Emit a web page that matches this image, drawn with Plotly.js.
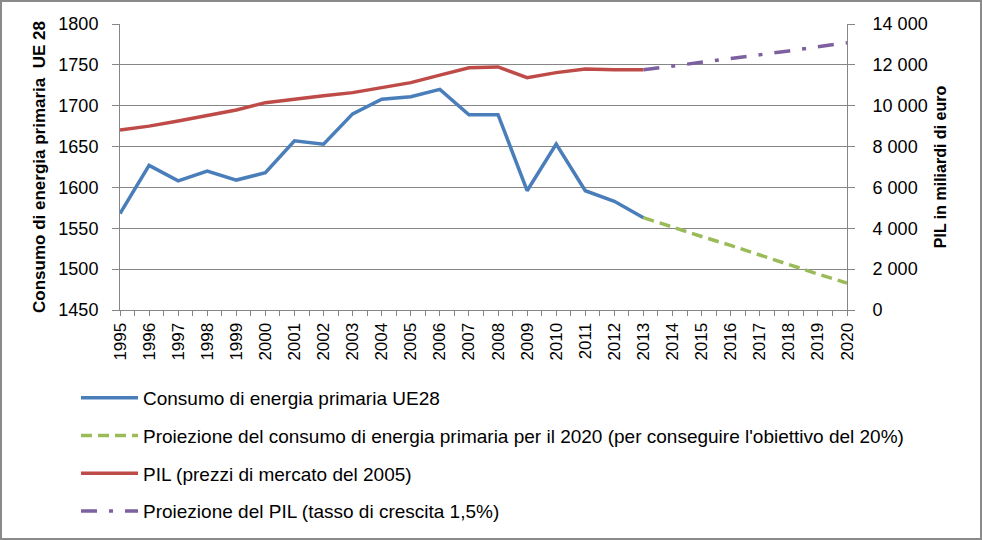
<!DOCTYPE html>
<html>
<head>
<meta charset="utf-8">
<script src="https://cdn.plot.ly/plotly-3.0.1.min.js"></script>
<style>
  body { margin: 0; background: #fff; }
  #frame { width: 982px; height: 540px; box-sizing: border-box; border: 2px solid #8a8a8a; overflow: hidden; }
</style>
</head>
<body>
<div id="frame"><div id="chart"></div></div>
<script>
const years = [1995, 1996, 1997, 1998, 1999, 2000, 2001, 2002, 2003, 2004,
               2005, 2006, 2007, 2008, 2009, 2010, 2011, 2012, 2013];
const energy = [1568, 1627, 1608, 1620, 1609, 1618, 1657, 1653, 1690, 1708,
                1711, 1720, 1689, 1689, 1596, 1653, 1596, 1583, 1563];
const gdp = [8810, 9000, 9250, 9500, 9790, 10150, 10340, 10490, 10640, 10880,
             11130, 11500, 11860, 11900, 11370, 11620, 11800, 11760, 11760];

const projYears = [2013, 2014, 2015, 2016, 2017, 2018, 2019, 2020];
const energyProj = [1563, 1551, 1540, 1529, 1517, 1506, 1494, 1483];
const gdpProj = [11760, 11940, 12110, 12290, 12500, 12680, 12890, 13080];

const tickYears = [];
for (let y = 1995; y <= 2020; y++) tickYears.push(y);

const font = 'Liberation Sans, Arial, sans-serif';
const grid = '#868686';

const traces = [
  {
    x: years, y: energy, name: 'Consumo di energia primaria UE28',
    type: 'scatter', mode: 'lines', legendgroup: 'a',
    line: { color: '#4a7ebb', width: 3.5 }
  },
  {
    x: projYears, y: energyProj,
    name: "Proiezione del consumo di energia primaria per il 2020 (per conseguire l'obiettivo del 20%)",
    type: 'scatter', mode: 'lines', legendgroup: 'b',
    line: { color: '#9bbb59', width: 3.5, dash: '11px,6px' }
  },
  {
    x: years, y: gdp, name: 'PIL (prezzi di mercato del 2005)', yaxis: 'y2',
    type: 'scatter', mode: 'lines', legendgroup: 'c',
    line: { color: '#be4b48', width: 3.5 }
  },
  {
    x: projYears, y: gdpProj, name: 'Proiezione del PIL (tasso di crescita 1,5%)', yaxis: 'y2',
    type: 'scatter', mode: 'lines', legendgroup: 'd',
    line: { color: '#7d60a0', width: 3.5, dash: '16px,12px,4px,12px' }
  }
];

// the figure is taller than the frame so the legend never pushes the margins
const layout = {
  width: 978,
  height: 580,
  margin: { l: 118, r: 133, t: 22, b: 272 },
  paper_bgcolor: '#fff',
  plot_bgcolor: '#fff',
  separators: ', ',
  font: { family: font, size: 18, color: '#000' },
  xaxis: {
    range: [1995, 2020],
    tickvals: tickYears,
    tickangle: -90,
    ticks: 'outside', ticklen: 5, tickcolor: grid,
    minor: { dtick: 0.5, tick0: 1995, ticks: 'outside', ticklen: 5, tickcolor: grid, showgrid: false },
    showgrid: false, zeroline: false,
    showline: true, linecolor: grid, linewidth: 1,
    tickfont: { size: 17 }
  },
  yaxis: {
    range: [1450, 1800], dtick: 50,
    ticks: 'outside', ticklen: 7, tickcolor: grid, ticklabelstandoff: 10,
    showgrid: true, gridcolor: grid, gridwidth: 1,
    zeroline: false, showline: true, linecolor: grid,
    title: { text: 'Consumo di energia primaria  UE 28', font: { size: 17, weight: 'bold' }, standoff: 8 }
  },
  yaxis2: {
    range: [0, 14000], dtick: 2000, overlaying: 'y', side: 'right',
    separatethousands: true, exponentformat: 'none', tickformat: ',d',
    ticks: 'outside', ticklen: 7, tickcolor: grid, ticklabelstandoff: 14,
    showgrid: false, zeroline: false, showline: true, linecolor: grid,
    title: { text: 'PIL in miliardi di euro', font: { size: 16, weight: 'bold' }, standoff: 8 }
  },
  showlegend: true,
  legend: {
    orientation: 'v',
    x: -0.0605, xanchor: 'left',
    y: -0.241, yanchor: 'top',
    traceorder: 'grouped', tracegroupgap: 10,
    itemwidth: 57,
    font: { size: 19 },
    bgcolor: 'rgba(0,0,0,0)'
  }
};

Plotly.newPlot('chart', traces, layout, { displayModeBar: false, staticPlot: true });
</script>
</body>
</html>
